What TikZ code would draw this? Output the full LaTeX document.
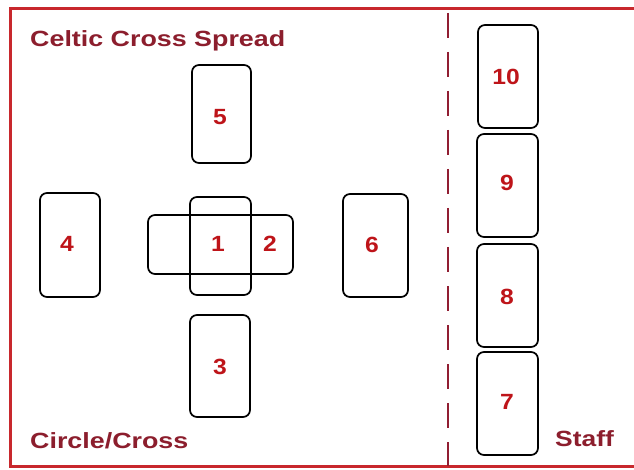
\documentclass[tikz,border=0pt]{standalone}
\usepackage{fontspec}
\setmainfont{Liberation Sans}
\definecolor{framered}{RGB}{200,40,45}
\definecolor{dashred}{RGB}{145,30,50}
\definecolor{titlered}{RGB}{140,30,45}
\definecolor{numred}{RGB}{190,20,25}
\begin{document}
\begin{tikzpicture}[x=1pt,y=-1pt,
  card/.style={draw=black,line width=1.7pt,rounded corners=7pt,inner sep=0pt},
  num/.style={text=numred,font=\fontsize{22}{24}\selectfont\bfseries,inner sep=0pt},
  ttl/.style={text=titlered,font=\fontsize{22}{24}\selectfont\bfseries,inner sep=0pt,anchor=base west}]
\useasboundingbox (0,0) rectangle (634,470);
\fill[white] (0,0) rectangle (634,470);
% frame
\draw[framered,line width=3pt] (640,9) -- (10,9) -- (10,466) -- (640,466);
\coordinate (dtop) at (448,9);
\coordinate (dbot) at (448,466);
\draw[dashred,line width=2.6pt,dash pattern=on 25pt off 14pt,dash phase=35pt] (dtop) -- (dbot);
% cards
\node[card,minimum width=59pt,minimum height=98pt] (c5) at (221.5,114) {};
\node[card,minimum width=145pt,minimum height=59pt] (c2) at (220.5,244.5) {};
\node[card,minimum width=61pt,minimum height=98pt] (c1) at (220.5,246) {};
\node[card,minimum width=60pt,minimum height=104pt] (c4) at (70,245) {};
\node[card,minimum width=65pt,minimum height=103pt] (c6) at (375.5,245.5) {};
\node[card,minimum width=60pt,minimum height=102pt] (c3) at (220,366) {};
\node[card,minimum width=60pt,minimum height=103pt] (c10) at (508,76.5) {};
\node[card,minimum width=61pt,minimum height=103pt] (c9) at (507.5,185.5) {};
\node[card,minimum width=61pt,minimum height=103pt] (c8) at (507.5,295.5) {};
\node[card,minimum width=61pt,minimum height=103pt] (c7) at (507.5,403.5) {};
% numbers
\node[num] (n5) at (220,117) {\scalebox{1.12}[1]{5}};
\node[num] (n1) at (218,244) {\scalebox{1.12}[1]{1}};
\node[num] (n2) at (270,244) {\scalebox{1.12}[1]{2}};
\node[num] (n4) at (67,244) {\scalebox{1.12}[1]{4}};
\node[num] (n6) at (372,245) {\scalebox{1.12}[1]{6}};
\node[num] (n3) at (220,367) {\scalebox{1.12}[1]{3}};
\node[num] (n10) at (506,77) {\scalebox{1.12}[1]{10}};
\node[num] (n9) at (507,183) {\scalebox{1.12}[1]{9}};
\node[num] (n8) at (507,297) {\scalebox{1.12}[1]{8}};
\node[num] (n7) at (507,402) {\scalebox{1.12}[1]{7}};
% titles
\node[ttl] (t1) at (30,47) {\scalebox{1.22}[1]{Celtic Cross Spread}};
\node[ttl] (t2) at (30,448) {\scalebox{1.22}[1]{Circle/Cross}};
\node[ttl] (t3) at (555,446) {\scalebox{1.2}[1]{Staff}};
\end{tikzpicture}
\end{document}
